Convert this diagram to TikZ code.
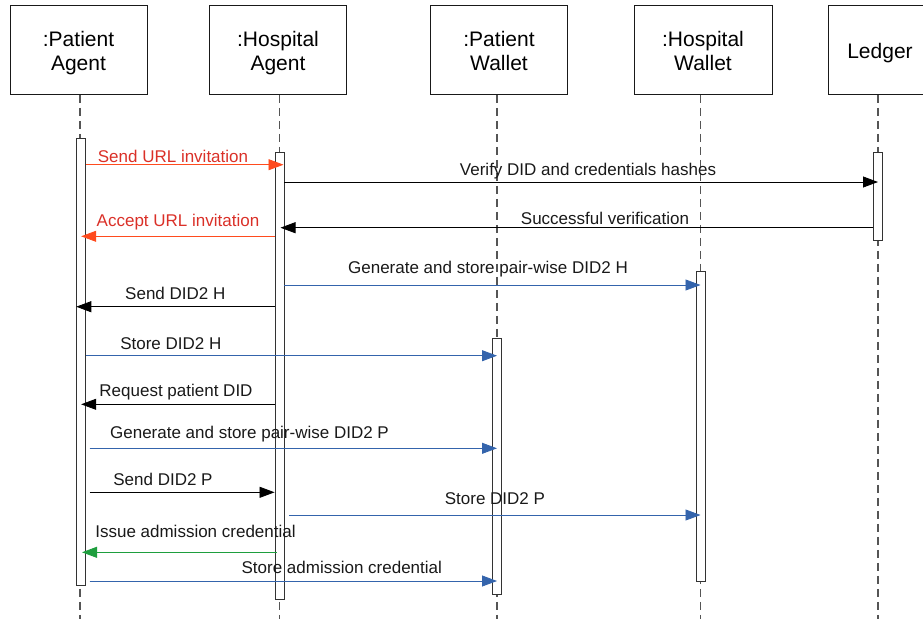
\documentclass[tikz,border=0pt]{standalone}
\usepackage{fontspec}
\setmainfont{Liberation Sans}
\usetikzlibrary{arrows.meta}
\definecolor{redline}{RGB}{255,75,30}
\definecolor{redtext}{RGB}{218,48,40}
\definecolor{blueline}{RGB}{52,100,172}
\definecolor{greenline}{RGB}{30,158,62}
\definecolor{lifegray}{RGB}{85,85,85}
\begin{document}
\begin{tikzpicture}[x=1pt,y=-1pt,
  headbox/.style={draw=black!90, line width=0.9pt, fill=white, minimum height=89pt, inner sep=0pt},
  headtxt/.style={font=\fontsize{21}{24.5}\selectfont, anchor=base, inner sep=0pt},
  life/.style={draw=lifegray, line width=1.3pt, dash pattern=on 8pt off 5pt},
  actbar/.style={draw=black!80, fill=white, line width=0.9pt, minimum width=9pt, inner sep=0pt},
  msg/.style={-{Triangle[length=15pt,width=11pt]}, line width=0.8pt},
  lbl/.style={font=\fontsize{17}{20}\selectfont, anchor=base, inner sep=0pt, text=black!90}]
\useasboundingbox (0,0) rectangle (923,619);
\clip (0,0) rectangle (923,619);

% header boxes
\node[headbox, minimum width=137pt] (pa) at (78.5,50) {};
\node[headbox, minimum width=137pt] (ha) at (278,50) {};
\node[headbox, minimum width=137pt] (pw) at (499,50) {};
\node[headbox, minimum width=138pt] (hw) at (703,50) {};
\node[headbox, minimum width=100pt] (led) at (878,50) {};

\node[headtxt] (pa1) at (78.5,46) {:Patient};
\node[headtxt] (pa2) at (78.5,70.5) {Agent};
\node[headtxt] (ha1) at (278,46) {:Hospital};
\node[headtxt] (ha2) at (278,70.5) {Agent};
\node[headtxt] (pw1) at (499,46) {:Patient};
\node[headtxt] (pw2) at (499,70.5) {Wallet};
\node[headtxt] (hw1) at (703,46) {:Hospital};
\node[headtxt] (hw2) at (703,70.5) {Wallet};
\node[headtxt] (led1) at (880,58.7) {Ledger};

% lifelines
\coordinate (lpa) at (80,619);
\coordinate (lha) at (279.5,619);
\coordinate (lpw) at (497,619);
\coordinate (lhw) at (700.5,619);
\coordinate (lld) at (878,619);
\draw[life] (lpa |- pa.south) -- (lpa);
\draw[life] (lha |- ha.south) -- (lha);
\draw[life] (lpw |- pw.south) -- (lpw);
\draw[life] (lhw |- hw.south) -- (lhw);
\draw[life] (lld |- led.south) -- (lld);

% activation bars
\node[actbar, minimum height=446.5pt] (pab) at (81.2,361.75) {};
\node[actbar, minimum height=447pt] (hab) at (279.5,375.5) {};
\node[actbar, minimum height=88pt] (lb) at (878,196) {};
\node[actbar, minimum height=309.5pt] (hwb) at (700.5,426.25) {};
\node[actbar, minimum height=256pt] (pwb) at (497,466) {};

% messages
\draw[msg, draw=redline, fill=redline] (pab.east |- 0,164.7) -- ([xshift=4pt]hab.center |- 0,164.7);
\node[lbl, text=redtext] (m1) at (173,162.3) {Send URL invitation};

\draw[msg, draw=black] (hab.east |- 0,182) -- (lb.center |- 0,182);
\node[lbl] (m2) at (588,175.7) {Verify DID and credentials hashes};

\draw[msg, draw=black] (lb.west |- 0,227.7) -- ([xshift=1pt]hab.center |- 0,227.7);
\node[lbl] (m3) at (605,224.3) {Successful verification};

\draw[msg, draw=redline, fill=redline] (hab.west |- 0,236.3) -- (pab.center |- 0,236.3);
\node[lbl, text=redtext] (m4) at (178,226.7) {Accept URL invitation};

\draw[msg, draw=blueline, fill=blueline] (hab.east |- 0,285) -- (hwb.center |- 0,285);
\node[lbl] (m5) at (488,273.3) {Generate and store pair-wise DID2 H};

\draw[msg, draw=black] (hab.west |- 0,306.7) -- (pab.west |- 0,306.7);
\node[lbl] (m6) at (175.3,299.3) {Send DID2 H};

\draw[msg, draw=blueline, fill=blueline] (pab.east |- 0,355.7) -- (pwb.center |- 0,355.7);
\node[lbl] (m7) at (170.8,349.3) {Store DID2 H};

\draw[msg, draw=black] (hab.west |- 0,404.3) -- (pab.center |- 0,404.3);
\node[lbl] (m8) at (176,396.7) {Request patient DID};

\draw[msg, draw=blueline, fill=blueline] ([xshift=3.5pt]pab.east |- 0,448.3) -- (pwb.center |- 0,448.3);
\node[lbl] (m9) at (249.5,438.3) {Generate and store pair-wise DID2 P};

\draw[msg, draw=black] ([xshift=3.5pt]pab.east |- 0,492.3) -- (hab.west |- 0,492.3);
\node[lbl] (m10) at (163,485.7) {Send DID2 P};

\draw[msg, draw=blueline, fill=blueline] ([xshift=5pt]hab.east |- 0,515) -- (hwb.center |- 0,515);
\node[lbl] (m11) at (494.9,504) {Store DID2 P};

\draw[msg, draw=greenline, fill=greenline] ([xshift=2pt]hab.west |- 0,552.3) -- ([xshift=0.8pt]pab.center |- 0,552.3);
\node[lbl] (m12) at (195.5,537.7) {Issue admission credential};

\draw[msg, draw=blueline, fill=blueline] ([xshift=3.5pt]pab.east |- 0,581) -- (pwb.center |- 0,581);
\node[lbl] (m13) at (341.8,573.3) {Store admission credential};
\end{tikzpicture}
\end{document}
